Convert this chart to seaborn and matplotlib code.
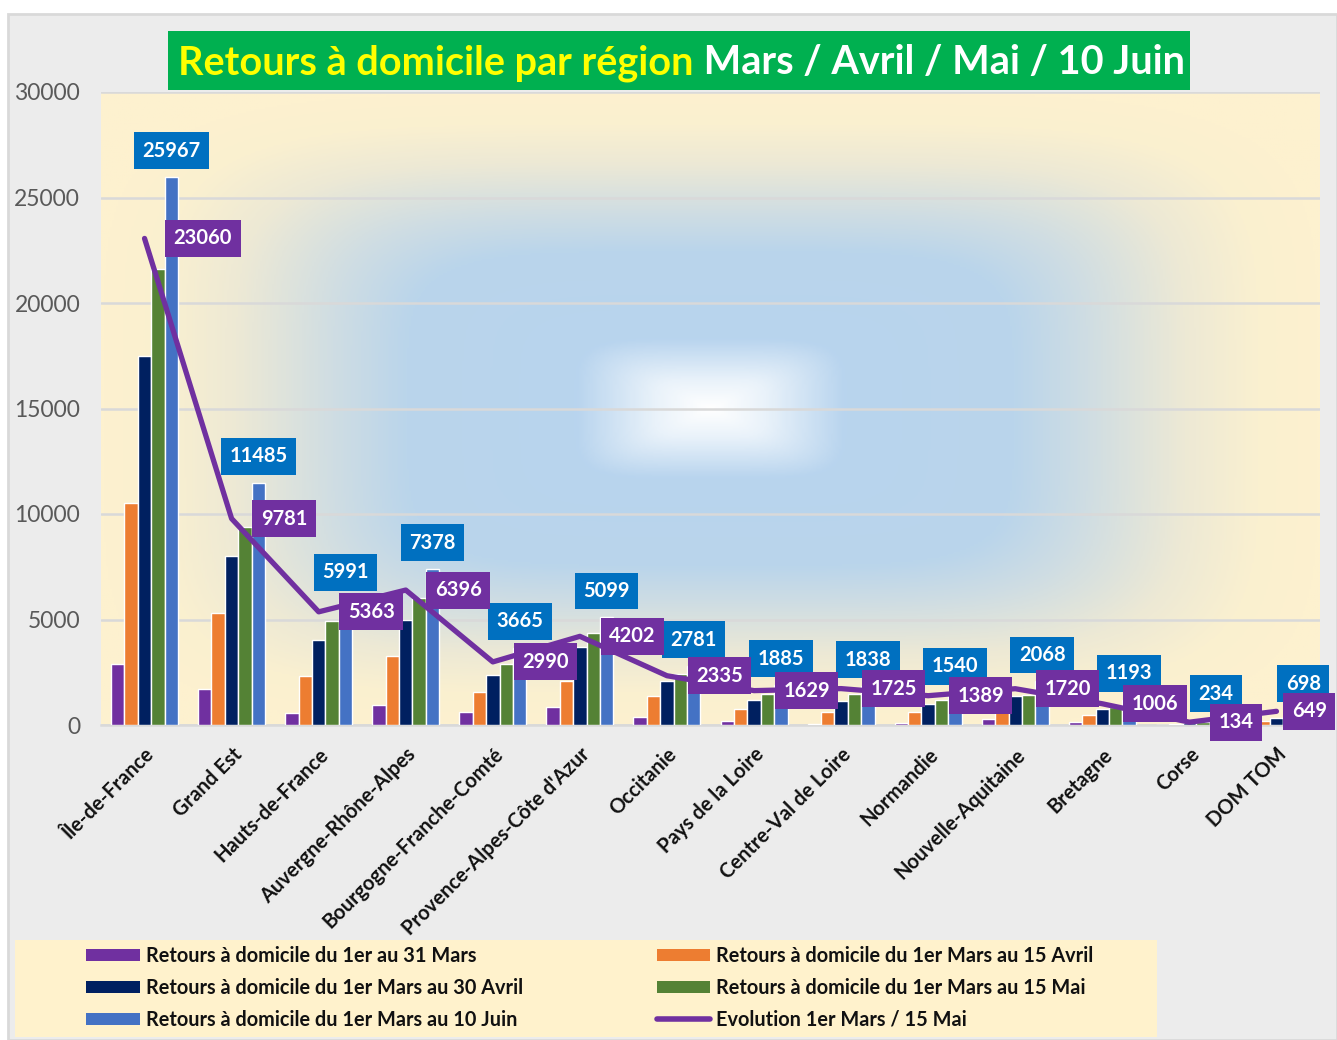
import numpy as np
import pandas as pd
import seaborn as sns
import matplotlib.pyplot as plt
from matplotlib.colors import LinearSegmentedColormap
from matplotlib.patches import Rectangle, Patch
from matplotlib.lines import Line2D

# Données
regions = ["Île-de-France", "Grand Est", "Hauts-de-France", "Auvergne-Rhône-Alpes",
           "Bourgogne-Franche-Comté", "Provence-Alpes-Côte d'Azur", "Occitanie",
           "Pays de la Loire", "Centre-Val de Loire", "Normandie", "Nouvelle-Aquitaine",
           "Bretagne", "Corse", "DOM TOM"]

mars_31 = [2900, 1700, 570, 950, 620, 850, 380, 200, 60, 100, 290, 140, 20, 50]
avril_15 = [10500, 5300, 2320, 3270, 1560, 2100, 1370, 760, 620, 620, 850, 470, 60, 190]
avril_30 = [17500, 8000, 4020, 4970, 2370, 3690, 2080, 1180, 1130, 1000, 1370, 760, 100, 330]
mai_15 = [21600, 9400, 4920, 6010, 2890, 4350, 2410, 1470, 1470, 1180, 1420, 850, 120, 430]
juin_10 = [25967, 11485, 5991, 7378, 3665, 5099, 2781, 1885, 1838, 1540, 2068, 1193, 234, 698]
evolution = [23060, 9781, 5363, 6396, 2990, 4202, 2335, 1629, 1725, 1389, 1720, 1006, 134, 649]

series_names = ["Retours à domicile du 1er au 31 Mars",
                "Retours à domicile du 1er Mars au 15 Avril",
                "Retours à domicile du 1er Mars au 30 Avril",
                "Retours à domicile du 1er Mars au 15 Mai",
                "Retours à domicile du 1er Mars au 10 Juin"]
line_name = "Evolution 1er Mars / 15 Mai"
colors = ["#7030a0", "#ed7d31", "#002060", "#548235", "#4472c4"]

# Table longue pour seaborn
rows = []
for name, vals in zip(series_names, [mars_31, avril_15, avril_30, mai_15, juin_10]):
    for reg, v in zip(regions, vals):
        rows.append({"region": reg, "serie": name, "valeur": v})
df = pd.DataFrame(rows)

sns.set_theme(style="white")
plt.rcParams['font.family'] = ['Lato', 'DejaVu Sans']

W, H = 1337, 1040
fig = plt.figure(figsize=(W / 100, H / 100), dpi=100, facecolor="white")

def fx(px):
    return px / W

def fy(py):
    return 1 - py / H

# fond gris du graphique
fig.patches.append(Rectangle((fx(8), 0), 1 - fx(8), fy(14), transform=fig.transFigure,
                             fc="#ececec", ec="#d9d9d9", lw=2, zorder=-5))

# zone de tracé
left, top, right, bottom = 101, 92, 1320, 725
rect = [fx(left), fy(bottom), fx(right - left), (bottom - top) / H]

# dégradé de fond (crème -> bleu -> blanc au centre)
bg = fig.add_axes(rect, zorder=0)
u = np.linspace(-1, 1, 600)
v = np.linspace(-1, 1, 320)
U, V = np.meshgrid(u, v)
d = np.clip((np.abs(U) ** 5 + np.abs(V) ** 5) ** (1 / 5), 0, 1)
cmap = LinearSegmentedColormap.from_list("fond", [
    (0.0, "#ffffff"), (0.09, "#e9f2fa"), (0.22, "#b8d4ee"), (0.5, "#bad5eb"),
    (0.62, "#cfdde3"), (0.78, "#ede9d5"), (0.9, "#faf0d0"), (1.0, "#fdf1cf")])
bg.imshow(d, cmap=cmap, aspect="auto", interpolation="bilinear", vmin=0, vmax=1)
bg.set_axis_off()

ax = fig.add_axes(rect, zorder=1)
ax.set_facecolor("none")
ax.patch.set_alpha(0)
sns.barplot(data=df, x="region", y="valeur", hue="serie", palette=colors,
            width=0.77, saturation=1, ax=ax, legend=False, zorder=3)

x = np.arange(len(regions))
ax.plot(x, evolution, color="#7030a0", lw=3.8, solid_joinstyle="round",
        solid_capstyle="round", zorder=5)

ax.set_xlim(-0.5, len(regions) - 0.5)
ax.set_ylim(0, 30000)
ax.set_yticks(range(0, 30001, 5000))
ax.yaxis.grid(True, color="#d9d9d9", lw=1.8, zorder=0)
ax.set_axisbelow(True)
for s in ["left", "right", "top"]:
    ax.spines[s].set_visible(False)
ax.spines["bottom"].set_color("#d9d9d9")
ax.spines["bottom"].set_linewidth(1.8)
ax.set_xlabel("")
ax.set_ylabel("")
ax.tick_params(axis="y", length=0, pad=15, labelsize=16.5, labelcolor="#595959")
ax.tick_params(axis="x", length=0, pad=14)
ax.set_xticks(x)
ax.set_xticklabels(regions, rotation=45, ha="right", rotation_mode="anchor",
                   fontsize=14.5, fontweight="bold", color="#111111")

# étiquettes de données
for i, val in enumerate(juin_10):
    ax.annotate(str(val), xy=(i + 0.308, val), xytext=(0, 19), textcoords="offset points",
                ha="center", va="center", color="white", fontsize=14.5, fontweight="bold",
                bbox=dict(boxstyle="square,pad=0.42", fc="#0070c0", ec="none"),
                zorder=6, annotation_clip=False)
for i, val in enumerate(evolution):
    dx = 21 if i < len(evolution) - 1 else 11  # la dernière reste dans l'image
    ax.annotate(str(val), xy=(i, val), xytext=(dx, 0), textcoords="offset points",
                ha="left", va="center", color="white", fontsize=14.5, fontweight="bold",
                bbox=dict(boxstyle="square,pad=0.42", fc="#7030a0", ec="none"),
                zorder=7, annotation_clip=False)

# titre
fig.patches.append(Rectangle((fx(168), fy(90)), fx(1190 - 168), (90 - 31) / H,
                             transform=fig.transFigure, fc="#00b050", ec="none", zorder=1))
t1 = fig.text(fx(178), fy(63), "Retours à domicile par région", color="#ffff00",
              fontsize=28.5, fontweight="bold", va="center", ha="left", zorder=3)
fig.canvas.draw()
bb = t1.get_window_extent(fig.canvas.get_renderer())
fig.text(bb.x1 / W, fy(63), " Mars / Avril / Mai / 10 Juin", color="white",
         fontsize=28.5, fontweight="bold", va="center", ha="left", zorder=3)

# légende
fig.patches.append(Rectangle((fx(15), fy(1037)), fx(1157 - 15), (1037 - 940) / H,
                             transform=fig.transFigure, fc="#fff2cc", ec="none", zorder=1))
h = [Patch(fc=c, ec="none") for c in colors]
hline = Line2D([0], [0], color="#7030a0", lw=4, solid_capstyle="round")
handles = [h[0], h[2], h[4], h[1], h[3], hline]
labels = [series_names[0], series_names[2], series_names[4],
          series_names[1], series_names[3], line_name]
leg = fig.legend(handles, labels, loc="upper left", bbox_to_anchor=(fx(86), fy(946)),
                 ncol=2, frameon=False, fontsize=14.3, handlelength=2.7, handleheight=0.6,
                 handletextpad=0.3, columnspacing=6.75, labelspacing=0.6,
                 borderpad=0, borderaxespad=0)
for t in leg.get_texts():
    t.set_fontweight("bold")
    t.set_color("#111111")

fig.savefig("out.png", dpi=100, facecolor="white")
